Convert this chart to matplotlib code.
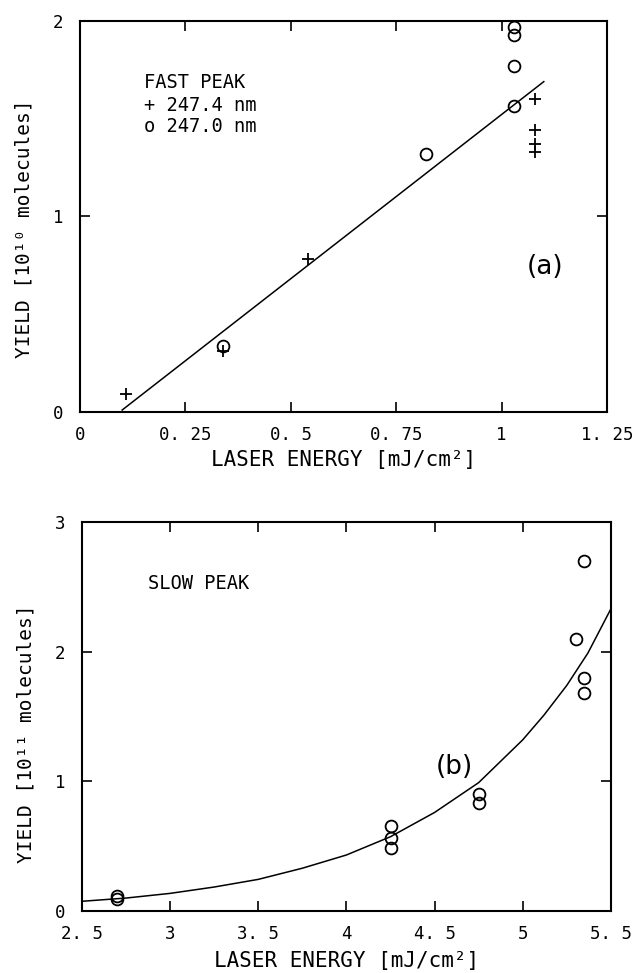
import matplotlib
matplotlib.use("Agg")
import matplotlib.pyplot as plt

plt.rcParams['font.family'] = ['DejaVu Sans Mono', 'DejaVu Sans']

# (a) fast peak
fast_plus_x = [0.11, 0.34, 0.54, 1.08, 1.08, 1.08, 1.08]
fast_plus_y = [0.09, 0.31, 0.78, 1.60, 1.44, 1.37, 1.33]
fast_circ_x = [0.34, 0.82, 1.03, 1.03, 1.03, 1.03]
fast_circ_y = [0.34, 1.32, 1.565, 1.77, 1.93, 1.97]
fast_fit_x = [0.10, 1.10]
fast_fit_y = [0.01, 1.69]
fast_xticks = [0, 0.25, 0.5, 0.75, 1, 1.25]
fast_xlabels = ['0', '0. 25', '0. 5', '0. 75', '1', '1. 25']
fast_yticks = [0, 1, 2]

# (b) slow peak
slow_circ_x = [2.70, 2.70, 4.255, 4.255, 4.255, 4.75, 4.75, 5.30, 5.35, 5.35, 5.35]
slow_circ_y = [0.115, 0.095, 0.655, 0.56, 0.485, 0.905, 0.83, 2.095, 2.70, 1.795, 1.685]
slow_fit_x = [2.5, 2.75, 3.0, 3.25, 3.5, 3.75, 4.0, 4.25, 4.5, 4.75, 5.0, 5.12, 5.25, 5.37, 5.5]
slow_fit_y = [0.075, 0.10, 0.136, 0.185, 0.244, 0.33, 0.432, 0.573, 0.76, 0.99, 1.32, 1.51, 1.74, 1.99, 2.33]
slow_xticks = [2.5, 3, 3.5, 4, 4.5, 5, 5.5]
slow_xlabels = ['2. 5', '3', '3. 5', '4', '4. 5', '5', '5. 5']
slow_yticks = [0, 1, 2, 3]

fig = plt.figure(figsize=(6.35, 9.73), dpi=100)
ax1 = fig.add_axes([0.126, 0.5766, 0.830, 0.4018])
ax2 = fig.add_axes([0.129, 0.0637, 0.833, 0.3998])


def style_axes(ax):
    for s in ax.spines.values():
        s.set_linewidth(1.5)
    ax.tick_params(direction='in', length=7, width=1.2, top=True, right=True,
                   labelsize=12.5)
    ax.tick_params(axis='x', pad=10)
    ax.tick_params(axis='y', pad=12)


# --- panneau (a)
ax1.plot(fast_fit_x, fast_fit_y, color='black', lw=1.1)
ax1.plot(fast_plus_x, fast_plus_y, '+', color='black', ms=9, mew=1.3)
ax1.plot(fast_circ_x, fast_circ_y, 'o', mfc='none', mec='black', ms=8.5, mew=1.3)
ax1.set_xlim(0, 1.25)
ax1.set_ylim(0, 2)
ax1.set_xticks(fast_xticks)
ax1.set_xticklabels(fast_xlabels)
ax1.set_yticks(fast_yticks)
style_axes(ax1)
ax1.set_xlabel('LASER ENERGY [mJ/cm²]', fontsize=15, va='center')
ax1.xaxis.set_label_coords(0.5, -48 / 391)
ax1.set_ylabel('YIELD [10¹⁰ molecules]', fontsize=14, va='center', ha='center')
ax1.yaxis.set_label_coords(-0.106, 0.469)
ax1.text(0.152, 1.688, 'FAST PEAK', fontsize=13.5, va='center')
ax1.text(0.152, 1.570, '+ 247.4 nm', fontsize=13.5, va='center')
ax1.text(0.152, 1.458, 'o 247.0 nm', fontsize=13.5, va='center')
ax1.text(1.103, 0.742, '(a)', fontsize=19, family='DejaVu Sans', ha='center', va='center')

# --- panneau (b)
ax2.plot(slow_fit_x, slow_fit_y, color='black', lw=1.1)
ax2.plot(slow_circ_x, slow_circ_y, 'o', mfc='none', mec='black', ms=8.5, mew=1.3)
ax2.set_xlim(2.5, 5.5)
ax2.set_ylim(0, 3)
ax2.set_xticks(slow_xticks)
ax2.set_xticklabels(slow_xlabels)
ax2.set_yticks(slow_yticks)
style_axes(ax2)
ax2.set_xlabel('LASER ENERGY [mJ/cm²]', fontsize=15, va='center')
ax2.xaxis.set_label_coords(0.5, -50 / 389)
ax2.set_ylabel('YIELD [10¹¹ molecules]', fontsize=14, va='center', ha='center')
ax2.yaxis.set_label_coords(-0.106, 0.455)
ax2.text(2.874, 2.529, 'SLOW PEAK', fontsize=13.5, va='center')
ax2.text(4.615, 1.11, '(b)', fontsize=19, family='DejaVu Sans', ha='center', va='center')

fig.savefig('out.png', dpi=100)
plt.close(fig)
